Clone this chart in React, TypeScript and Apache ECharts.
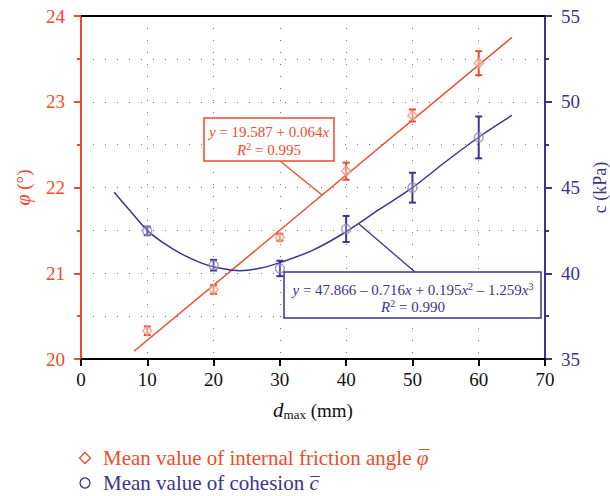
import React, { useEffect, useRef } from 'react';
import * as echarts from 'echarts';

const X_VALUES = [10, 20, 30, 40, 50, 60];
const PHI_MEAN = [20.33, 20.81, 21.42, 22.19, 22.84, 23.45];
const PHI_ERR = [0.05, 0.05, 0.04, 0.1, 0.07, 0.14];
const C_MEAN = [42.47, 40.47, 40.28, 42.58, 44.99, 47.92];
const C_ERR = [0.25, 0.31, 0.45, 0.76, 0.87, 1.22];

const PHI_FIT_X = [8, 65];
const PHI_FIT_Y = [20.09, 23.75];
const C_FIT_X = [5, 7.5, 10, 12.5, 15, 18, 20, 24, 27, 30, 35, 40, 45, 50, 55, 60, 65];
const C_FIT_Y = [44.72, 43.6, 42.5, 41.75, 41.16, 40.62, 40.38, 40.15, 40.29, 40.62, 41.35, 42.42, 43.72, 44.99, 46.5, 47.93, 49.2];

const LEGEND_PHI = 'Mean value of internal friction angle ';
const LEGEND_C = 'Mean value of cohesion ';

const RED = '#EE4B2B';
const BLUE = '#3C3391';
const RED_LIGHT = '#F4937A';
const BLUE_LIGHT = '#8E88C4';
const FONT = '"Liberation Serif", "DejaVu Serif", serif';
const LEGEND_SIZE = 21;

const dotted = { color: '#7a7a7a', width: 1, type: [1, 11] as any };

function measure(text: string, font: string): number {
  const c = document.createElement('canvas').getContext('2d');
  if (!c) return text.length * 8;
  c.font = font;
  return c.measureText(text).width;
}

function errorSeries(name: string, means: number[], errs: number[], color: string, yAxisIndex: number) {
  return {
    name,
    type: 'custom',
    xAxisIndex: 0,
    yAxisIndex,
    z: 3,
    data: X_VALUES.map((x, i) => [x, means[i], errs[i]]),
    encode: { x: 0, y: 1 },
    renderItem: (params: any, api: any) => {
      const x = api.value(0);
      const y = api.value(1);
      const e = api.value(2);
      const p1 = api.coord([x, y + e]);
      const p2 = api.coord([x, y - e]);
      const style = { stroke: color, lineWidth: 2 };
      const hw = 3.5;
      return {
        type: 'group',
        children: [
          { type: 'line', shape: { x1: p1[0], y1: p1[1], x2: p2[0], y2: p2[1] }, style },
          { type: 'line', shape: { x1: p1[0] - hw, y1: p1[1], x2: p1[0] + hw, y2: p1[1] }, style },
          { type: 'line', shape: { x1: p2[0] - hw, y1: p2[1], x2: p2[0] + hw, y2: p2[1] }, style },
        ],
      };
    },
  };
}

export default function App() {
  const ref = useRef<HTMLDivElement>(null);
  useEffect(() => {
    const chart = echarts.init(ref.current!, null, { renderer: 'svg' });
    const legendFont = `${LEGEND_SIZE}px "Liberation Serif"`;
    const italicFont = `italic ${LEGEND_SIZE}px "Liberation Serif"`;
    const phiX = 103 + measure(LEGEND_PHI, legendFont);
    const phiW = measure('φ', italicFont);
    const cX = 103 + measure(LEGEND_C, legendFont);
    const cW = measure('c', italicFont);

    const option: any = {
      animation: false,
      backgroundColor: '#ffffff',
      textStyle: { fontFamily: FONT },
      grid: { left: 81, top: 16, width: 464, height: 343, containLabel: false, outerBoundsMode: 'none' },
      xAxis: [
        {
          type: 'value',
          position: 'bottom',
          min: 0,
          max: 70,
          interval: 10,
          axisLine: { show: true, onZero: false, lineStyle: { color: '#000', width: 2 } },
          axisTick: { show: true, length: 7, lineStyle: { color: '#000', width: 2 } },
          axisLabel: { color: '#111', fontSize: 19, fontFamily: FONT, margin: 11 },
          splitLine: { show: true, lineStyle: dotted },
          name: '{i|d}{s|max} (mm)',
          nameLocation: 'middle',
          nameGap: 40,
          nameTextStyle: {
            color: '#111',
            fontSize: 19,
            fontFamily: FONT,
            rich: {
              i: { fontSize: 21, fontStyle: 'italic', fontFamily: FONT, color: '#111' },
              s: { fontSize: 13, fontFamily: FONT, color: '#111', padding: [9, 0, 0, 0] },
            },
          },
        },
        {
          type: 'value',
          position: 'top',
          min: 0,
          max: 70,
          interval: 10,
          axisLine: { show: true, onZero: false, lineStyle: { color: '#000', width: 2 } },
          axisTick: { show: false },
          axisLabel: { show: false },
          splitLine: { show: false },
        },
      ],
      yAxis: [
        {
          type: 'value',
          position: 'left',
          min: 20,
          max: 24,
          interval: 1,
          axisLine: { show: true, onZero: false, lineStyle: { color: RED, width: 2 } },
          axisTick: { show: true, length: 7, lineStyle: { color: RED, width: 2 } },
          minorTick: { show: true, splitNumber: 2, length: 4, lineStyle: { color: RED, width: 2 } },
          axisLabel: { color: RED, fontSize: 19, fontFamily: FONT, margin: 16 },
          splitLine: { show: true, lineStyle: dotted },
          minorSplitLine: { show: true, lineStyle: dotted },
          name: '{i|φ} (°)',
          nameLocation: 'middle',
          nameRotate: 90,
          nameGap: 48,
          nameTextStyle: {
            color: RED,
            fontSize: 19,
            fontFamily: FONT,
            rich: { i: { fontSize: 20, fontStyle: 'italic', fontFamily: FONT, color: RED } },
          },
        },
        {
          type: 'value',
          position: 'right',
          min: 35,
          max: 55,
          interval: 5,
          axisLine: { show: true, onZero: false, lineStyle: { color: BLUE, width: 2 } },
          axisTick: { show: true, length: 7, lineStyle: { color: BLUE, width: 2 } },
          minorTick: { show: true, splitNumber: 2, length: 4, lineStyle: { color: BLUE, width: 2 } },
          axisLabel: { color: BLUE, fontSize: 19, fontFamily: FONT, margin: 16 },
          splitLine: { show: false },
          name: 'c (kPa)',
          nameLocation: 'middle',
          nameRotate: 90,
          nameGap: 43,
          nameTextStyle: { color: BLUE, fontSize: 18, fontFamily: FONT },
        },
      ],
      series: [
        {
          name: 'phi fit',
          type: 'line',
          xAxisIndex: 0,
          yAxisIndex: 0,
          data: PHI_FIT_X.map((x, i) => [x, PHI_FIT_Y[i]]),
          showSymbol: false,
          symbol: 'none',
          lineStyle: { color: RED, width: 1.5 },
          z: 2,
        },
        {
          name: 'c fit',
          type: 'line',
          xAxisIndex: 0,
          yAxisIndex: 1,
          data: C_FIT_X.map((x, i) => [x, C_FIT_Y[i]]),
          smooth: 0.35,
          showSymbol: false,
          symbol: 'none',
          lineStyle: { color: BLUE, width: 1.5 },
          z: 2,
        },
        errorSeries('phi error', PHI_MEAN, PHI_ERR, RED, 0),
        errorSeries('c error', C_MEAN, C_ERR, BLUE, 1),
        {
          name: 'Mean value of internal friction angle',
          type: 'scatter',
          xAxisIndex: 0,
          yAxisIndex: 0,
          data: X_VALUES.map((x, i) => [x, PHI_MEAN[i]]),
          symbol: 'diamond',
          symbolSize: [9, 10],
          itemStyle: { color: 'rgba(255,255,255,0.5)', borderColor: RED_LIGHT, borderWidth: 1.5 },
          z: 4,
        },
        {
          name: 'Mean value of cohesion',
          type: 'scatter',
          xAxisIndex: 0,
          yAxisIndex: 1,
          data: X_VALUES.map((x, i) => [x, C_MEAN[i]]),
          symbol: 'circle',
          symbolSize: 9,
          itemStyle: { color: 'rgba(255,255,255,0.3)', borderColor: BLUE_LIGHT, borderWidth: 1.5 },
          z: 4,
        },
      ],
      graphic: [
        // red annotation
        { type: 'line', z: 10, shape: { x1: 280, y1: 161, x2: 322, y2: 195 }, style: { stroke: RED, lineWidth: 1.3 } },
        { type: 'rect', z: 10, shape: { x: 204, y: 118, width: 130, height: 43 }, style: { fill: '#fff', stroke: RED, lineWidth: 1.5 } },
        {
          type: 'text', z: 11, x: 269, y: 132,
          style: {
            text: '{i|y} = 19.587 + 0.064{i|x}', fill: RED, fontSize: 15, fontFamily: FONT,
            align: 'center', verticalAlign: 'middle',
            rich: { i: { fontStyle: 'italic', fontSize: 15, fontFamily: FONT, color: RED } },
          },
        },
        {
          type: 'text', z: 11, x: 269, y: 150,
          style: {
            text: '{i|R}{p|2} = 0.995', fill: RED, fontSize: 15, fontFamily: FONT,
            align: 'center', verticalAlign: 'middle',
            rich: {
              i: { fontStyle: 'italic', fontSize: 15, fontFamily: FONT, color: RED },
              p: { fontSize: 10, fontFamily: FONT, color: RED, padding: [0, 0, 8, 0] },
            },
          },
        },
        // blue annotation
        { type: 'line', z: 10, shape: { x1: 359, y1: 224, x2: 415, y2: 272 }, style: { stroke: BLUE, lineWidth: 1.3 } },
        { type: 'rect', z: 10, shape: { x: 284, y: 272, width: 257, height: 46 }, style: { fill: '#fff', stroke: BLUE, lineWidth: 1.5 } },
        {
          type: 'text', z: 11, x: 413, y: 290,
          style: {
            text: '{i|y} = 47.866 – 0.716{i|x} + 0.195{i|x}{p|2} – 1.259{i|x}{p|3}', fill: BLUE, fontSize: 15, fontFamily: FONT,
            align: 'center', verticalAlign: 'middle',
            rich: {
              i: { fontStyle: 'italic', fontSize: 15, fontFamily: FONT, color: BLUE },
              p: { fontSize: 10, fontFamily: FONT, color: BLUE, padding: [0, 0, 8, 0] },
            },
          },
        },
        {
          type: 'text', z: 11, x: 413, y: 307,
          style: {
            text: '{i|R}{p|2} = 0.990', fill: BLUE, fontSize: 15, fontFamily: FONT,
            align: 'center', verticalAlign: 'middle',
            rich: {
              i: { fontStyle: 'italic', fontSize: 15, fontFamily: FONT, color: BLUE },
              p: { fontSize: 10, fontFamily: FONT, color: BLUE, padding: [0, 0, 8, 0] },
            },
          },
        },
        // legend
        { type: 'polygon', shape: { points: [[85, 452.5], [90.5, 458], [85, 463.5], [79.5, 458]] }, style: { fill: 'none', stroke: RED, lineWidth: 1.3 } },
        {
          type: 'text', x: 103, y: 458,
          style: { text: LEGEND_PHI.trim(), fill: RED, fontSize: LEGEND_SIZE, fontFamily: FONT, align: 'left', verticalAlign: 'middle' },
        },
        {
          type: 'text', x: phiX, y: 458,
          style: { text: 'φ', fill: RED, fontSize: LEGEND_SIZE, fontStyle: 'italic', fontFamily: FONT, align: 'left', verticalAlign: 'middle' },
        },
        { type: 'line', shape: { x1: phiX + 2, y1: 449.5, x2: phiX + phiW + 1.5, y2: 449.5 }, style: { stroke: RED, lineWidth: 1 } },
        { type: 'circle', shape: { cx: 85, cy: 483, r: 5 }, style: { fill: 'none', stroke: BLUE, lineWidth: 1.3 } },
        {
          type: 'text', x: 103, y: 483,
          style: { text: LEGEND_C.trim(), fill: BLUE, fontSize: LEGEND_SIZE, fontFamily: FONT, align: 'left', verticalAlign: 'middle' },
        },
        {
          type: 'text', x: cX, y: 483,
          style: { text: 'c', fill: BLUE, fontSize: LEGEND_SIZE, fontStyle: 'italic', fontFamily: FONT, align: 'left', verticalAlign: 'middle' },
        },
        { type: 'line', shape: { x1: cX + 1, y1: 476.5, x2: cX + cW + 1, y2: 476.5 }, style: { stroke: BLUE, lineWidth: 1 } },
      ],
    };
    chart.setOption(option);
    return () => chart.dispose();
  }, []);
  return <div ref={ref} style={{ position: 'absolute', left: 0, top: 0, width: 610, height: 496 }} />;
}
